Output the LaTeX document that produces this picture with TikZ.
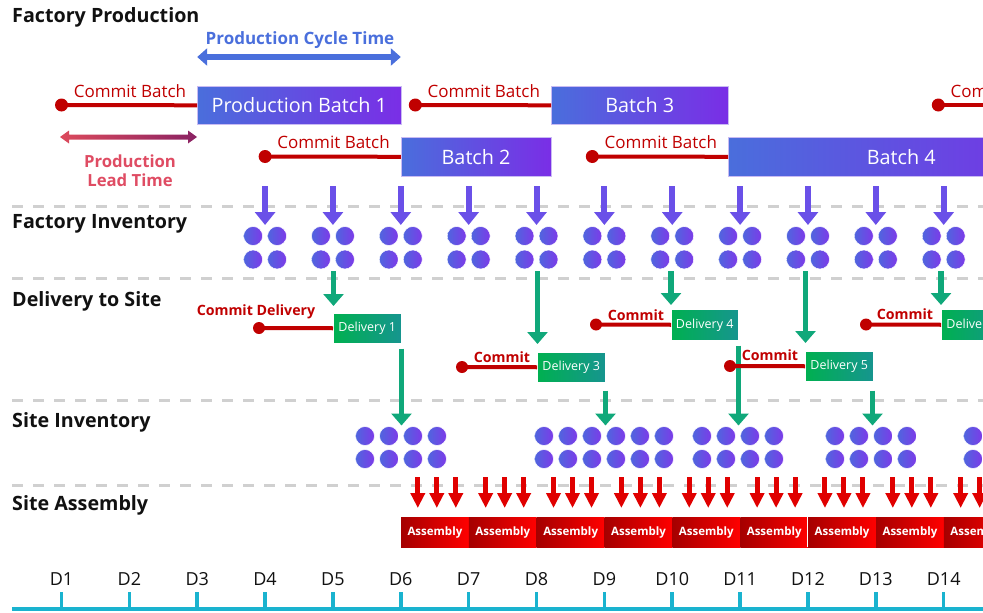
\documentclass[tikz,border=0pt]{standalone}
\usepackage{fontspec}
\setmainfont{Open Sans}
\usetikzlibrary{arrows.meta}
\definecolor{cred}{HTML}{C00000}
\definecolor{cblue}{HTML}{4A6FDC}
\definecolor{bleft}{HTML}{4A6EDC}
\definecolor{bright}{HTML}{7A2EE6}
\definecolor{lav}{HTML}{C9BBF3}
\definecolor{ltleft}{HTML}{DC4A5C}
\definecolor{ltright}{HTML}{8A2263}
\definecolor{lttext}{HTML}{DF4C63}
\definecolor{gleft}{HTML}{00B050}
\definecolor{gright}{HTML}{16958F}
\definecolor{garrow}{HTML}{10A87A}
\definecolor{parrow}{HTML}{6A50E8}
\definecolor{dotl}{HTML}{4F66DE}
\definecolor{dotr}{HTML}{7D3AE9}
\definecolor{rarrow}{HTML}{E00000}
\definecolor{aleft}{HTML}{A50000}
\definecolor{aright}{HTML}{FF0000}
\definecolor{sepgrey}{HTML}{D0D0D0}
\definecolor{axiscol}{HTML}{1AB3CF}
\definecolor{ink}{HTML}{111111}
\begin{document}
\begin{tikzpicture}[x=1pt,y=-1pt,
  rowlab/.style={anchor=base west,inner sep=0pt,text=ink,font=\bfseries\fontsize{19.7}{23}\selectfont},
  sepline/.style={draw=sepgrey,line width=3pt,dash pattern=on 11pt off 10pt},
  batch/.style={anchor=north west,inner sep=0pt,left color=bleft,right color=bright,draw=lav,line width=0.6pt,text=white,font=\fontsize{19.8}{23}\selectfont},
  bdot/.style={circle,fill=cred,inner sep=0pt,minimum size=13pt},
  ddot/.style={circle,fill=cred,inner sep=0pt,minimum size=12pt},
  cline/.style={draw=cred,line width=4pt},
  ctext/.style={anchor=base,inner sep=0pt,text=cred,font=\fontsize{17}{20}\selectfont},
  cdtext/.style={anchor=base,inner sep=0pt,text=cred,font=\bfseries\fontsize{14.2}{16}\selectfont},
  bluetext/.style={anchor=base,inner sep=0pt,text=cblue,font=\bfseries\fontsize{17}{20}\selectfont},
  leadtext/.style={anchor=base,inner sep=0pt,text=lttext,font=\bfseries\fontsize{16.7}{19}\selectfont},
  cycarr/.style={draw=cblue,line width=5.5pt,{Triangle[length=10pt,width=17pt]}-{Triangle[length=10pt,width=17pt]}},
  deliv/.style={anchor=north west,inner sep=0pt,left color=gleft,right color=gright,draw=white,line width=0.5pt,text=white,font=\fontsize{12.5}{15}\selectfont,minimum height=30pt},
  idot/.style={circle,inner sep=0pt,minimum size=19pt,left color=dotl,right color=dotr,draw=white,line width=0.5pt},
  parr/.style={draw=parrow,line width=6pt,-{Triangle[length=13pt,width=20pt]}},
  garr/.style={draw=garrow,line width=5.5pt,-{Triangle[length=12pt,width=20pt]}},
  rarr/.style={draw=rarrow,line width=5pt,-{Triangle[length=15pt,width=14pt]}},
  asm/.style={anchor=north west,inner sep=0pt,minimum width=67.86pt,minimum height=30pt,left color=aleft,right color=aright,text=white,font=\bfseries\fontsize{11.5}{13}\selectfont},
  axisline/.style={draw=axiscol,line width=3.5pt},
  axistick/.style={draw=axiscol,line width=3.5pt},
  dlab/.style={anchor=base,inner sep=0pt,text=ink,font=\fontsize{18}{21}\selectfont}
]
\useasboundingbox (0,0) rectangle (983,613);
\clip (0,0) rectangle (983,613);

% separators
\foreach \yy in {206,278,400,485} \draw[sepline] (12,\yy) -- (983,\yy);

% row labels
\node[rowlab] (lfp) at (12,23) {Factory Production};
\node[rowlab] (lfi) at (12,228) {Factory Inventory};
\node[rowlab] (lds) at (12,306) {Delivery to Site};
\node[rowlab] (lsi) at (12,427) {Site Inventory};
\node[rowlab] (lsa) at (12,510) {Site Assembly};

% production cycle time
\coordinate (pc1) at (197.2,57);
\coordinate (pc2) at (400.8,57);
\draw[cycarr] (pc1) -- (pc2);
\node[bluetext] (pct) at (300,44) {Production Cycle Time};

% batches
\node[batch,minimum width=203.6pt,minimum height=38pt] (b1) at (197.2,86) {Production Batch 1};
\node[batch,minimum width=150pt,minimum height=39pt] (b2) at (400.8,137) {Batch 2};
\node[batch,minimum width=177pt,minimum height=38pt] (b3) at (551,86) {Batch 3};
\node[batch,minimum width=346pt,minimum height=39pt] (b4) at (728,137) {Batch 4};
\coordinate (b5) at (1074,105);

% commit batch
\node[bdot] (cb1) at (61.5,105) {};
\node[bdot] (cb2) at (265.1,156.5) {};
\node[bdot] (cb3) at (415.3,105) {};
\node[bdot] (cb4) at (592.3,156.5) {};
\node[bdot] (cb5) at (938.3,105) {};
\draw[cline] (cb1.center) -- (b1.west);
\draw[cline] (cb2.center) -- (b2.west);
\draw[cline] (cb3.center) -- (b3.west);
\draw[cline] (cb4.center) -- (b4.west);
\draw[cline] (cb5.center) -- (b5);
\node[ctext] (tcb1) at (130,97) {Commit Batch};
\node[ctext] (tcb2) at (333.6,148) {Commit Batch};
\node[ctext] (tcb3) at (483.8,97) {Commit Batch};
\node[ctext] (tcb4) at (660.8,148) {Commit Batch};
\node[ctext] (tcb5) at (1006.8,97) {Commit Batch};

% production lead time
\shade[left color=ltleft,right color=ltright]
  (60,137) -- (69,130.5) -- (69,134.5) -- (188,134.5) -- (188,130.5) -- (197,137)
  -- (188,143.5) -- (188,139.5) -- (69,139.5) -- (69,143.5) -- cycle;
\node[leadtext] (plt1) at (130,167) {Production};
\node[leadtext] (plt2) at (130,186) {Lead Time};

% factory inventory
\foreach \k in {4,...,14}{
  \pgfmathsetmacro\xx{61.5+67.86*(\k-1)}
  \coordinate (fa\k) at (\xx,186);
  \coordinate (fb\k) at (\xx,225);
  \draw[parr] (fa\k) -- (fb\k);
  \node[idot] (fi\k-1) at (\xx-12,236) {};
  \node[idot] (fi\k-2) at (\xx+12,236) {};
  \node[idot] (fi\k-3) at (\xx-12,259.5) {};
  \node[idot] (fi\k-4) at (\xx+12,259.5) {};
}

% deliveries
\node[deliv,minimum width=68pt] (d1) at (333,313) {Delivery 1};
\node[deliv,minimum width=68pt] (d3) at (537,352) {Delivery 3};
\node[deliv,minimum width=67pt,minimum height=31pt] (d4) at (671,309) {Delivery 4};
\node[deliv,minimum width=68pt] (d5) at (805,351) {Delivery 5};
\node[deliv,minimum width=68pt,minimum height=31pt] (d6) at (941,309) {Delivery 6};

\draw[garr] ([xshift=0.5pt,yshift=42pt]d1.north west) -- ([xshift=0.5pt,yshift=7pt]d1.north west);
\draw[garr] ([xshift=0.5pt,yshift=81pt]d3.north west) -- ([xshift=0.5pt,yshift=8pt]d3.north west);
\draw[garr] ([xshift=0pt,yshift=38pt]d4.north west) -- ([xshift=0pt,yshift=4pt]d4.north west);
\draw[garr] ([xshift=0.5pt,yshift=80pt]d5.north west) -- ([xshift=0.5pt,yshift=8pt]d5.north west);
\draw[garr] ([xshift=0pt,yshift=38pt]d6.north west) -- ([xshift=0pt,yshift=4pt]d6.north west);

\draw[garr] ([yshift=-5pt]d1.south east) -- ([yshift=-82pt]d1.south east);
\draw[garr] ([yshift=-8pt]d3.south east) -- ([yshift=-43pt]d3.south east);
\draw[garr] ([yshift=-5pt]d4.south east) -- ([yshift=-85pt]d4.south east);
\draw[garr] ([xshift=-1pt,yshift=-9pt]d5.south east) -- ([xshift=-1pt,yshift=-44pt]d5.south east);

\node[ddot] (cd1) at (259,328) {};
\node[ddot] (cd3) at (462,367) {};
\node[ddot] (cd4) at (596,324.5) {};
\node[ddot] (cd5) at (730,366) {};
\node[ddot] (cd6) at (866,324.5) {};
\draw[cline] (cd1.center) -- (d1.west);
\draw[cline] (cd3.center) -- (d3.west);
\draw[cline] (cd4.center) -- (d4.west);
\draw[cline] (cd5.center) -- (d5.west);
\draw[cline] (cd6.center) -- (d6.west);
\node[cdtext] (tcd1) at (256,315) {Commit Delivery};
\node[cdtext] (tcd3) at (502,362) {Commit};
\node[cdtext] (tcd4) at (636,320) {Commit};
\node[cdtext] (tcd5) at (770,360) {Commit};
\node[cdtext] (tcd6) at (905,319) {Commit};

% site inventory
\foreach \cx/\n [count=\g] in {401/4,604/6,738/4,871/4,1009/4}{
  \foreach \j in {1,...,\n}{
    \pgfmathsetmacro\sx{\cx-12*(\n-1)+24*(\j-1)}
    \node[idot] (si\g-\j-a) at (\sx,436) {};
    \node[idot] (si\g-\j-b) at (\sx,459) {};
  }
}

% site assembly
\foreach \k in {6,...,14}{
  \pgfmathsetmacro\bx{61.5+67.86*(\k-1)}
  \node[asm] (as\k) at (\bx,517) {Assembly};
  \foreach \o in {17,36,55}{
    \draw[rarr] ([xshift=\o pt,yshift=40pt]as\k.north west) -- ([xshift=\o pt,yshift=9pt]as\k.north west);
  }
}
\draw[white,line width=1pt] (as12.north west) -- (as12.south west);

% time axis
\draw[axisline] (12,609) -- (983,609);
\foreach \k in {1,...,14}{
  \pgfmathsetmacro\xx{61.5+67.86*(\k-1)}
  \draw[axistick] (\xx,609) -- (\xx,592);
  \node[dlab] (dl\k) at (\xx,585) {D\k};
}
\end{tikzpicture}
\end{document}
